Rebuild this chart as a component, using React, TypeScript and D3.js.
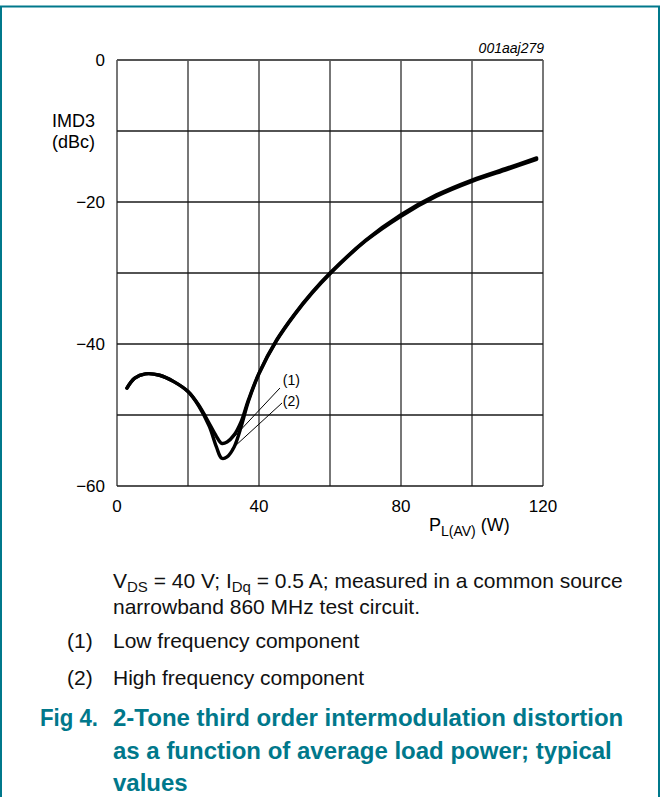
import React from 'react'
import * as d3 from 'd3'

// P_L(AV) in W
const powerLow = [2.8, 5, 8, 12, 16, 20, 23, 26, 28, 29.5, 31, 33, 35, 37, 40, 45, 50, 55, 60, 70, 80, 90, 100, 110, 118.2]
// (1) low frequency component, dBc
const imdLow = [-46.2, -44.8, -44.2, -44.4, -45.3, -46.7, -48.6, -51.2, -53.0, -54.0, -53.8, -52.8, -50.9, -47.9, -44.1, -39.4, -35.8, -32.7, -30.0, -25.4, -21.8, -19.0, -16.9, -15.2, -13.8]
// (2) high frequency component, dBc
const powerHigh = [2.8, 5, 8, 12, 16, 20, 23, 26, 28, 29.5, 31, 33, 35, 37, 40, 45, 50, 55, 60, 70, 80, 90, 100, 110, 118.2]
const imdHigh = [-46.2, -44.8, -44.2, -44.4, -45.3, -46.7, -48.7, -51.6, -54.5, -56.1, -55.9, -54.5, -51.6, -48.1, -44.2, -39.5, -35.9, -32.8, -30.1, -25.5, -22.0, -19.2, -17.1, -15.4, -14.0]

const xTicks = [0, 40, 80, 120]
const yTicks = [0, -20, -40, -60]
const xGrid = [0, 20, 40, 60, 80, 100, 120]
const yGrid = [0, -10, -20, -30, -40, -50, -60]

const teal = '#00788b'
const font = '"Liberation Sans", Arial, sans-serif'

const x = d3.scaleLinear().domain([0, 120]).range([117, 543])
const y = d3.scaleLinear().domain([0, -60]).range([60, 486])

const line = d3.line<number>()
    .x(d => x(d))
    .curve(d3.curveCatmullRom.alpha(0.5))

function pathFor(xs: number[], ys: number[]) {
    return line.y((_, i) => y(ys[i]))(xs) || ''
}

// label callouts, in data units
const callouts = [
    { label: '(1)', tx: 46.7, ty: -45.8, from: [45.9, -46.2], to: [32.4, -53.4] },
    { label: '(2)', tx: 46.7, ty: -48.8, from: [46.5, -48.3], to: [32.1, -54.9] },
]

export default function App() {
    return (
        <svg width={661} height={797} style={{ position: 'absolute', left: 0, top: 0, background: '#fff' }}
            fontFamily={font}>
            {/* frame */}
            <path d='M1,800 V6.5 H659 V800' fill='none' stroke={teal} strokeWidth={2} />

            {/* grid */}
            {xGrid.map(v => (
                <line key={'gx' + v} x1={x(v)} x2={x(v)} y1={y(0)} y2={y(-60)} stroke='#555' strokeWidth={1.6} />
            ))}
            {yGrid.map(v => (
                <line key={'gy' + v} x1={x(0)} x2={x(120)} y1={y(v)} y2={y(v)}
                    stroke={v === 0 ? '#555' : '#1a1a1a'} strokeWidth={v === 0 ? 2 : 1.3} />
            ))}

            {/* tick labels */}
            {yTicks.map(v => (
                <text key={'ty' + v} x={105} y={y(v) + 6} textAnchor='end' fontSize={17}>
                    {v === 0 ? '0' : '\u2212' + Math.abs(v)}
                </text>
            ))}
            {xTicks.map(v => (
                <text key={'tx' + v} x={x(v)} y={512} textAnchor='middle' fontSize={17}>{v}</text>
            ))}

            <text x={52} y={127} fontSize={18}>IMD3</text>
            <text x={52} y={148} fontSize={18}>(dBc)</text>
            <text x={429} y={531} fontSize={18}>
                P<tspan fontSize={14} dy={5}>L(AV)</tspan><tspan dy={-5}> (W)</tspan>
            </text>
            <text x={544} y={53} textAnchor='end' fontSize={14} fontStyle='italic'>001aaj279</text>

            {/* curves */}
            <path d={pathFor(powerLow, imdLow)} fill='none' stroke='#000' strokeWidth={3.4} strokeLinejoin='round' strokeLinecap='round' />
            <path d={pathFor(powerHigh, imdHigh)} fill='none' stroke='#000' strokeWidth={3.4} strokeLinejoin='round' strokeLinecap='round' />

            {callouts.map(c => (
                <g key={c.label}>
                    <line x1={x(c.from[0])} y1={y(c.from[1])} x2={x(c.to[0])} y2={y(c.to[1])} stroke='#000' strokeWidth={1} />
                    <text x={x(c.tx)} y={y(c.ty)} fontSize={14}>{c.label}</text>
                </g>
            ))}

            {/* notes */}
            <g fontSize={21} fill='#111'>
                <text x={113} y={588}>
                    V<tspan fontSize={15} dy={4}>DS</tspan><tspan dy={-4}> = 40 V; I</tspan>
                    <tspan fontSize={15} dy={4}>Dq</tspan><tspan dy={-4}> = 0.5 A; measured in a common source</tspan>
                </text>
                <text x={113} y={614}>narrowband 860 MHz test circuit.</text>
                <text x={67} y={648}>(1)</text>
                <text x={113} y={648}>Low frequency component</text>
                <text x={67} y={685}>(2)</text>
                <text x={113} y={685}>High frequency component</text>
            </g>
            <g fontSize={24} fontWeight='bold' fill={teal}>
                <text x={40} y={726} textLength={58} lengthAdjust='spacingAndGlyphs'>Fig 4.</text>
                <text x={113} y={726}>2-Tone third order intermodulation distortion</text>
                <text x={113} y={759}>as a function of average load power; typical</text>
                <text x={113} y={791}>values</text>
            </g>
        </svg>
    )
}
